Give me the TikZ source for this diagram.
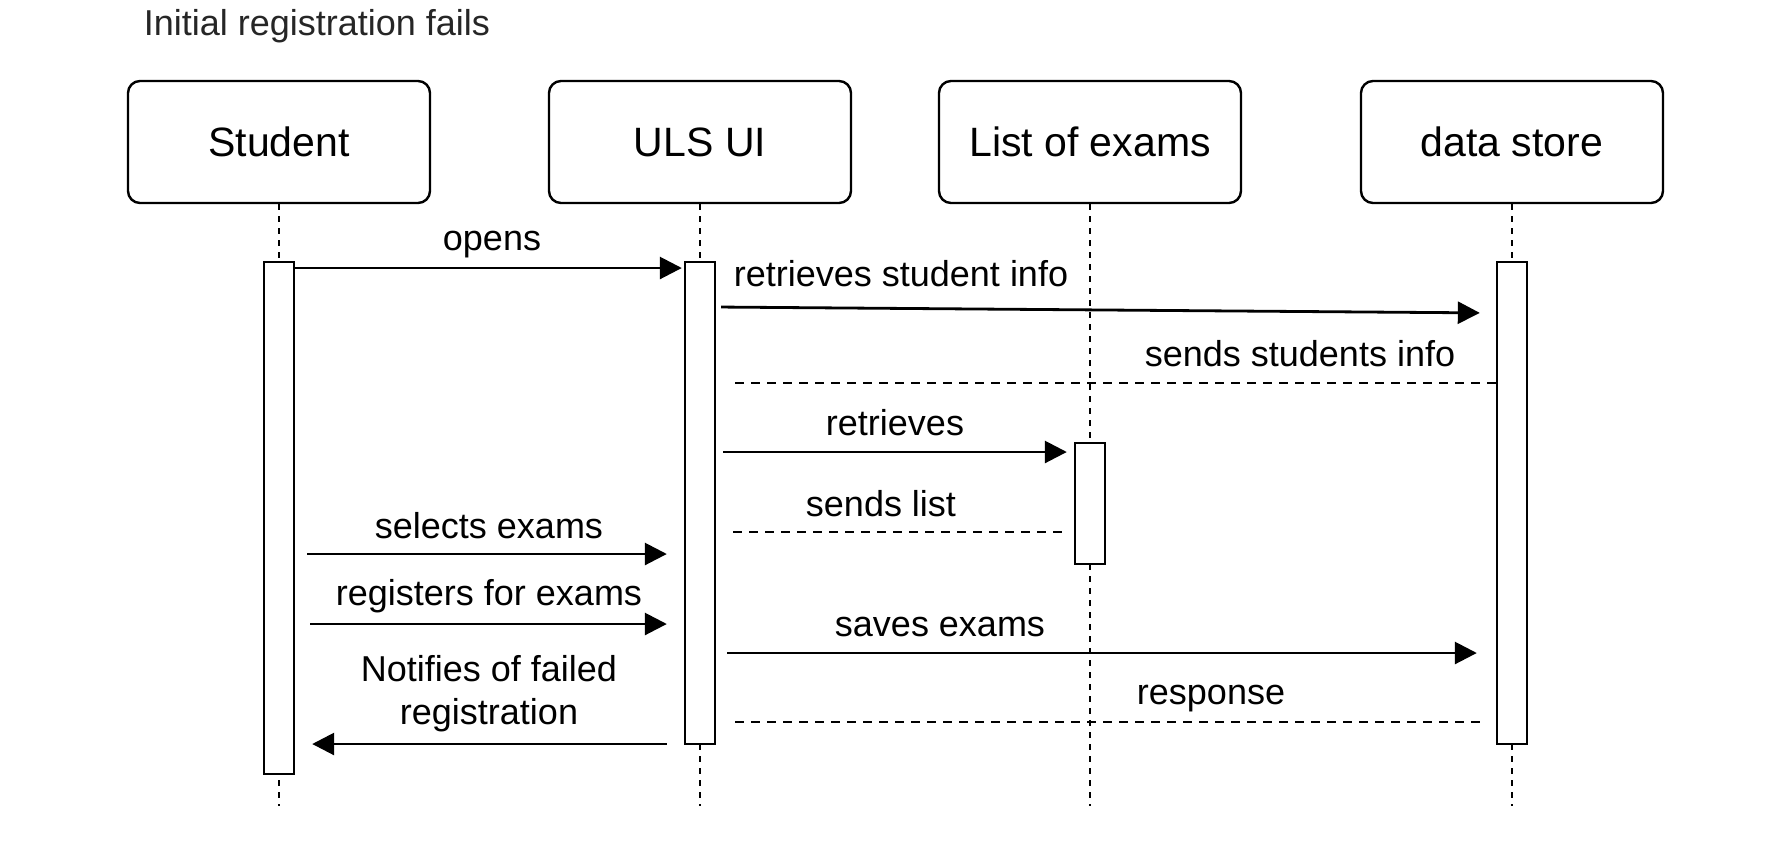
\documentclass[tikz,border=0pt]{standalone}
\usepackage{fontspec}
\setmainfont{Liberation Sans}
\usetikzlibrary{arrows.meta}

\begin{document}
\begin{tikzpicture}[x=0.5pt, y=-0.5pt, line width=1.2pt,
  actor/.style={draw, rounded corners=6pt, minimum width=151pt, minimum height=61pt, font=\fontsize{20.5}{24}\selectfont},
  bar/.style={draw, fill=white, minimum width=15pt, inner sep=0pt},
  msg/.style={-{Triangle[length=11pt,width=11pt]}, line width=1.4pt},
  reply/.style={dash pattern=on 4.5pt off 3.5pt},
  life/.style={dash pattern=on 3pt off 3pt, line width=0.9pt},
  lbl/.style={font=\fontsize{18}{21.5}\selectfont, anchor=base}]
\useasboundingbox (0,0) rectangle (1784,848);
\node[anchor=base west, font=\fontsize{18}{20}\selectfont, text=black!85] (title) at (136,35) {Initial registration fails};

\node[actor] (student) at ( 279,142) {Student};
\node[actor] (ulsui)   at ( 700,142) {ULS UI};
\node[actor] (exams)   at (1090,142) {List of exams};
\node[actor] (store)   at (1512,142) {data store};

\foreach \n/\x in {student/279, ulsui/700, exams/1090, store/1512}
{
  \coordinate (\n-end) at (\x,806);
  \draw[life] (\n.south) -- (\n-end);
}

\node[bar, minimum height=256pt]  (actS) at ( 279,518)   {};
\node[bar, minimum height=241pt]  (actU) at ( 700,503)   {};
\node[bar, minimum height=60.5pt] (actL) at (1090,503.5) {};
\node[bar, minimum height=241pt]  (actD) at (1512,503)   {};

\draw[msg, shorten >=1pt]                  (actS.east |- 0,268) -- (actU.west |- 0,268);
\draw[msg, shorten <=2.5pt, shorten >=8pt] (actU.east |- 0,307) -- (actD.west |- 0,313);
\draw[reply, shorten >=8pt]                (actD.west |- 0,383) -- (actU.east |- 0,383);
\draw[msg, shorten <=3.5pt, shorten >=3.5pt] (actU.east |- 0,452) -- (actL.west |- 0,452);
\draw[reply, shorten <=6pt, shorten >=8pt] (actL.west |- 0,532) -- (actU.east |- 0,532);
\draw[msg, shorten <=6pt, shorten >=8.5pt] (actS.east |- 0,554) -- (actU.west |- 0,554);
\draw[msg, shorten <=7.5pt, shorten >=8.5pt] (actS.east |- 0,624) -- (actU.west |- 0,624);
\draw[msg, shorten <=5.5pt, shorten >=9.5pt] (actU.east |- 0,653) -- (actD.west |- 0,653);
\draw[reply, shorten <=8pt, shorten >=8pt] (actD.west |- 0,722) -- (actU.east |- 0,722);
\draw[msg, shorten <=8.5pt, shorten >=8.5pt] (actU.west |- 0,744) -- (actS.east |- 0,744);

\node[lbl] (l-opens)  at ( 492,250) {opens};
\node[lbl] (l-info)   at ( 901,286) {retrieves student info};
\node[lbl] (l-sinfo)  at (1300,366) {sends students info};
\node[lbl] (l-retr)   at ( 895,435) {retrieves};
\node[lbl] (l-slist)  at ( 881,516) {sends list};
\node[lbl] (l-select) at ( 489,538) {selects exams};
\node[lbl] (l-reg)    at ( 489,605) {registers for exams};
\node[lbl] (l-save)   at ( 940,636) {saves exams};
\node[lbl] (l-resp)   at (1211,704) {response};
\node[lbl, anchor=center, align=center] (l-notify) at (489,694) {Notifies of failed\\registration};
\end{tikzpicture}
\end{document}
